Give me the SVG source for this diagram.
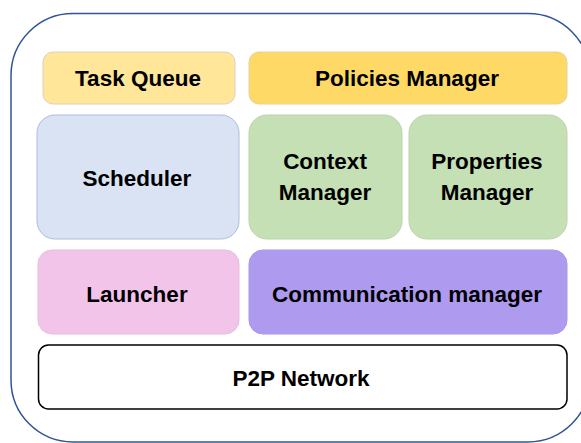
<svg xmlns="http://www.w3.org/2000/svg" width="581" height="443" viewBox="0 0 581 443">
<style>
.lbl{font-family:"Liberation Sans",Arial,sans-serif;font-weight:bold;font-size:22.5px;fill:#000;text-anchor:middle}
.box{stroke-width:1}
</style>
<rect width="581" height="443" fill="#fff"/>
<g id="container">
<rect x="11" y="13.5" width="579" height="428.5" rx="62" ry="62" fill="none" stroke="#2F5597" stroke-width="1.5"/>
</g>
<g id="task-queue">
<rect class="box" x="43" y="52" width="192" height="52" rx="10" fill="#FFE699" stroke="#D9D2C0"/>
<text class="lbl" x="138" y="86">Task Queue</text>
</g>
<g id="policies-manager">
<rect class="box" x="249" y="52" width="318" height="52" rx="10" fill="#FFD966" stroke="#E2D2A0"/>
<text class="lbl" x="407" y="86">Policies Manager</text>
</g>
<g id="scheduler">
<rect class="box" x="37" y="115" width="202" height="124" rx="18" fill="#DAE3F3" stroke="#A9BEDF"/>
<text class="lbl" x="137" y="186">Scheduler</text>
</g>
<g id="context-manager">
<rect class="box" x="249" y="115" width="153" height="124" rx="18" fill="#C5E0B4" stroke="#BBD3AB"/>
<text class="lbl" x="325" y="169">Context</text>
<text class="lbl" x="325" y="200">Manager</text>
</g>
<g id="properties-manager">
<rect class="box" x="409" y="115" width="158" height="124" rx="18" fill="#C5E0B4" stroke="#BBD3AB"/>
<text class="lbl" x="487" y="169">Properties</text>
<text class="lbl" x="487" y="200">Manager</text>
</g>
<g id="launcher">
<rect class="box" x="38" y="250" width="201" height="84" rx="14" fill="#F3C4EA" stroke="#E2C0DA"/>
<text class="lbl" x="137" y="302">Launcher</text>
</g>
<g id="communication-manager">
<rect class="box" x="249" y="250" width="318" height="84" rx="14" fill="#AE9BF0" stroke="#A897E2"/>
<text class="lbl" x="407" y="302">Communication manager</text>
</g>
<g id="p2p-network">
<rect x="38.5" y="345" width="528.5" height="64" rx="10" fill="#fff" stroke="#000" stroke-width="1.5"/>
<text class="lbl" x="301" y="386">P2P Network</text>
</g>
<g id="connectors"></g>
</svg>
